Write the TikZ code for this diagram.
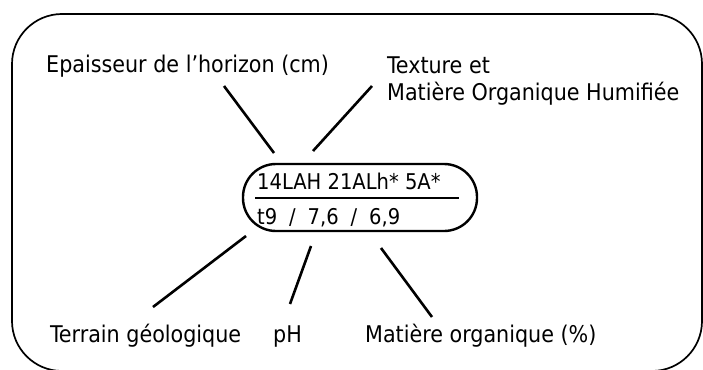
\documentclass[tikz,border=0pt]{standalone}
\usepackage{fontspec}
\setmainfont{DejaVu Sans Condensed}
\begin{document}
\begin{tikzpicture}[x=1pt,y=-1pt,
  lab/.style={font=\fontsize{23}{27}\selectfont, inner sep=0pt, anchor=base west},
  codetext/.style={font=\fontsize{21.7}{25}\selectfont, inner sep=0pt, anchor=base west},
  conn/.style={line width=2.6pt},
  frame/.style={line width=1.7pt, rounded corners=50pt},
  codebox/.style={draw, line width=2.4pt, rounded corners=33pt, minimum width=234pt, minimum height=67pt, inner sep=0pt}]
\useasboundingbox (0,0) rectangle (703,369);
\draw[frame] (12,14) rectangle (702,371);
% central code box
\node[codebox] (code) at (360,197.5) {};
\node[codetext] (l1) at (257,189) {14LAH 21ALh* 5A*};
\node[codetext] (l2) at (257,224) {t9\hspace{0.55em}/\hspace{0.55em}7,6\hspace{0.55em}/\hspace{0.55em}6,9};
\coordinate (d1) at (255,198);
\coordinate (d2) at (459,198);
\draw[line width=2.4pt] (d1) -- (d2);
% labels
\node[lab] (ep) at (46,72) {Epaisseur de l'horizon (cm)};
\node[lab] (tx1) at (387,73) {Texture et};
\node[lab] (tx2) at (387,100) {Matière Organique Humifiée};
\node[lab] (ter) at (50,342) {Terrain géologique};
\node[lab] (ph) at (273,342) {pH};
\node[lab] (mo) at (365,342) {Matière organique (\%)};
% connector ends
\coordinate (a1) at (224,86);  \coordinate (b1) at (274,153);
\coordinate (a2) at (372,86);  \coordinate (b2) at (313,151);
\coordinate (a3) at (153,307); \coordinate (b3) at (246,236);
\coordinate (a4) at (290,304); \coordinate (b4) at (311,246);
\coordinate (a5) at (432,317); \coordinate (b5) at (381,248);
\draw[conn] (a1) -- (b1);
\draw[conn] (a2) -- (b2);
\draw[conn] (a3) -- (b3);
\draw[conn] (a4) -- (b4);
\draw[conn] (a5) -- (b5);
\end{tikzpicture}
\end{document}
